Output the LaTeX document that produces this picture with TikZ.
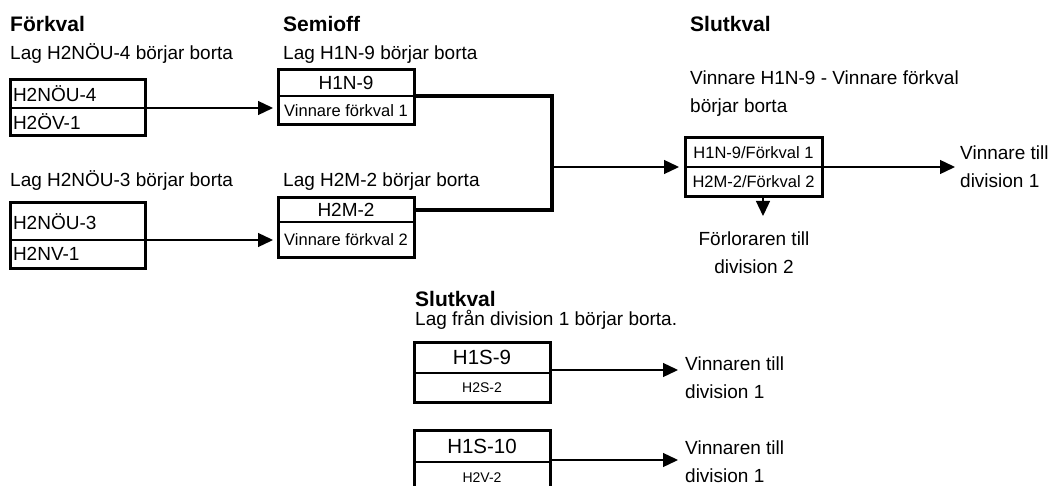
\documentclass[tikz,border=0pt]{standalone}
\usepackage{fontspec}
\setmainfont{Liberation Sans}
\usetikzlibrary{positioning,arrows.meta}

\tikzset{
  cell/.style={draw, line width=1.3pt, inner xsep=3pt, inner ysep=1pt, outer sep=0pt,
    font=\fontsize{19}{22}\selectfont},
  leftcell/.style={cell, text width=129pt, align=left},
  midcell/.style={cell, minimum width=136pt},
  frame/.style={line width=3pt},
  bracket/.style={line width=3.4pt},
  arr/.style={line width=1.3pt, -{Triangle[length=15pt,width=14pt]}},
  lbl/.style={anchor=base west, inner sep=0pt, font=\fontsize{19}{28}\selectfont},
  title/.style={anchor=base west, inner sep=0pt, font=\fontsize{21}{24}\bfseries}
}

\begin{document}
\begin{tikzpicture}[x=1pt, y=-1pt]
  \useasboundingbox (0,0) rectangle (1048,486);
  \clip (0,0) rectangle (1048,486);

  % headings
  \node[title] (tfk) at (10,32) {Förkval};
  \node[title] (tsf) at (283,32) {Semioff};
  \node[title] (tsk) at (690,32) {Slutkval};
  \node[title] (tfin) at (415,306) {Slutkval};

  \node[lbl] (lfk1) at (10,60) {Lag H2NÖU-4 börjar borta};
  \node[lbl] (lfk2) at (10,187) {Lag H2NÖU-3 börjar borta};
  \node[lbl] (lsf1) at (283,60) {Lag H1N-9 börjar borta};
  \node[lbl] (lsf2) at (283,187) {Lag H2M-2 börjar borta};
  \node[lbl, align=left] (lsk) at (690,113) {Vinnare H1N-9 - Vinnare förkval\\börjar borta};
  \node[lbl] (lfin) at (415,325) {Lag från division 1 börjar borta.};

  % förkval
  \node[leftcell, minimum height=28pt] (fk1a) at (77.5,94) {H2NÖU-4};
  \node[leftcell, minimum height=28pt, below=0pt of fk1a] (fk1b) {H2ÖV-1};
  \draw[frame] (fk1a.north west) rectangle (fk1b.south east);

  \node[leftcell, minimum height=37pt] (fk2a) at (77.5,221.5) {H2NÖU-3};
  \node[leftcell, minimum height=28pt, below=0pt of fk2a] (fk2b) {H2NV-1};
  \draw[frame] (fk2a.north west) rectangle (fk2b.south east);

  % semioff
  \node[midcell, minimum height=26pt] (sf1a) at (346,83) {H1N-9};
  \node[midcell, minimum height=29pt, below=0pt of sf1a, font=\fontsize{16.5}{20}\selectfont] (sf1b) {Vinnare förkval 1};
  \draw[frame] (sf1a.north west) rectangle (sf1b.south east);

  \node[midcell, minimum height=24pt] (sf2a) at (346,210) {H2M-2};
  \node[midcell, minimum height=35pt, below=0pt of sf2a, font=\fontsize{16.5}{20}\selectfont] (sf2b) {Vinnare förkval 2};
  \draw[frame] (sf2a.north west) rectangle (sf2b.south east);

  % slutkval
  \node[midcell, minimum width=137pt, minimum height=29pt, font=\fontsize{16.5}{20}\selectfont] (ska) at (753.5,152.5) {H1N-9/Förkval 1};
  \node[midcell, minimum width=137pt, minimum height=30pt, below=0pt of ska, font=\fontsize{16.5}{20}\selectfont] (skb) {H2M-2/Förkval 2};
  \draw[frame] (ska.north west) rectangle (skb.south east);

  \node[lbl, align=left] (win) at (960,188) {Vinnare till\\division 1};
  \node[lbl, anchor=base, align=center] (lose) at (754,273) {Förloraren till\\division 2};

  % slutkval division 1
  \node[midcell, minimum height=31pt, font=\fontsize{20.5}{24}\selectfont] (fin1a) at (482,357.5) {H1S-9};
  \node[midcell, minimum height=29pt, below=0pt of fin1a, font=\fontsize{14}{17}\selectfont] (fin1b) {H2S-2};
  \draw[frame] (fin1a.north west) rectangle (fin1b.south east);

  \node[midcell, minimum height=32pt, font=\fontsize{20.5}{24}\selectfont] (fin2a) at (482,446) {H1S-10};
  \node[midcell, minimum height=32pt, below=0pt of fin2a, font=\fontsize{14}{17}\selectfont] (fin2b) {H2V-2};
  \draw[frame] (fin2a.north west) rectangle (fin2b.south east);

  \node[lbl, align=left] (win1) at (685,398) {Vinnaren till\\division 1};
  \node[lbl, align=left] (win2) at (685,482) {Vinnaren till\\division 1};

  % connectors
  \coordinate (join) at (552,167);
  \coordinate (loss) at (763,216);
  \draw[arr, shorten >=5pt] (fk1a.south east) -- (fk1a.south east -| sf1b.west);
  \draw[arr, shorten >=5pt] (fk2a.south east) -- (fk2a.south east -| sf2b.west);
  \draw[bracket] (sf1a.south east) -| (join) |- (sf2a.east);
  \draw[arr, shorten >=6pt] (join) -- (skb.north west);
  \draw[arr, shorten >=5pt] (ska.south east) -- (ska.south east -| win.west);
  \draw[arr] (skb.south -| loss) -- (loss);
  \draw[arr, shorten >=7pt] (fin1a.south east) ++(0,-3) -- (win1.west |- 0,370);
  \draw[arr, shorten >=7pt] (fin2a.south east) ++(0,-2) -- (win2.west |- 0,460);
\end{tikzpicture}
\end{document}
